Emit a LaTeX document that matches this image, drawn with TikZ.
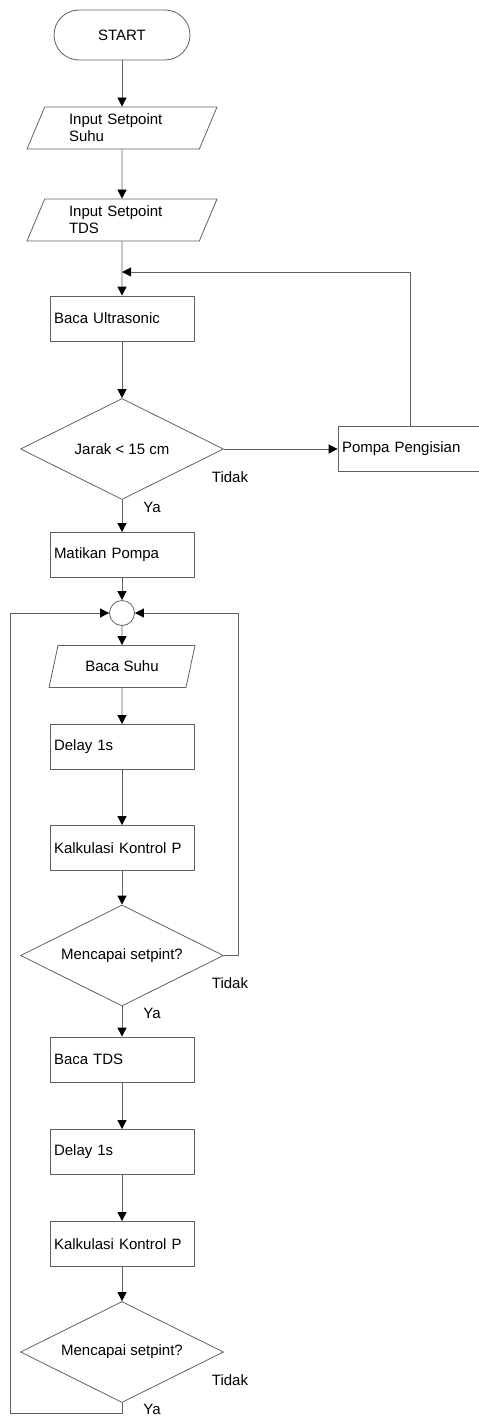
\documentclass[tikz,border=0pt]{standalone}
\usepackage{fontspec}
\setmainfont{Liberation Sans}
\usetikzlibrary{shapes.geometric,arrows.meta}
\tikzset{
  fcshape/.style={draw=black!62, line width=0.8pt, fill=white},
  fcterm/.style={fcshape, rectangle, rounded corners=25pt,
                 minimum width=136pt, minimum height=50pt},
  fcproc/.style={fcshape, rectangle, minimum width=144pt, minimum height=45pt,
                 text width=136pt, align=left, inner sep=4pt},
  fcio/.style={fcshape, trapezium, trapezium left angle=63,
               trapezium right angle=117, trapezium stretches body,
               minimum height=42pt},
  fcdecision/.style={fcshape, diamond, aspect=2, inner sep=1pt,
                     minimum width=203pt, minimum height=101pt},
  fcjoin/.style={fcshape, circle, minimum size=25pt, inner sep=0pt},
  fclink/.style={draw=black!62, line width=0.8pt},
  fcflow/.style={fclink, -{Triangle[width=9pt,length=9pt,color=black]}},
  fcnote/.style={inner sep=0pt}
}
\begin{document}
\begin{tikzpicture}[
    x=1pt, y=-1pt,
    every node/.style={font=\fontsize{15}{17}\selectfont}
]
  \useasboundingbox (0,0) rectangle (479,1416);

  \node[fcterm] (start) at (122,35) {START};
  \node[fcio, minimum width=190pt, text width=106pt, align=left] (insuhu) at (122,128)
    {Input Setpoint\\Suhu};
  \node[fcio, minimum width=190pt, text width=106pt, align=left] (intds) at (122,220)
    {Input Setpoint\\TDS};
  \node[fcproc] (ultra) at (122,318.5) {Baca Ultrasonic};
  \node[fcdecision] (jarak) at (122,449) {Jarak < 15 cm};
  \node[fcproc] (isi) at (410,449) {Pompa Pengisian};
  \node[fcproc] (matikan) at (122,555) {Matikan Pompa};
  \node[fcjoin] (join) at (122,613) {};
  \node[fcio, minimum width=146pt] (suhu) at (122,666.5) {Baca Suhu};
  \node[fcproc] (delaya) at (122,747) {Delay 1s};
  \node[fcproc] (kalka) at (122,848) {Kalkulasi Kontrol P};
  \node[fcdecision] (ceka) at (122,955.5) {Mencapai setpint?};
  \node[fcproc] (tds) at (122,1059.5) {Baca TDS};
  \node[fcproc] (delayb) at (122,1152) {Delay 1s};
  \node[fcproc] (kalkb) at (122,1244) {Kalkulasi Kontrol P};
  \node[fcdecision] (cekb) at (122,1352) {Mencapai setpint?};

  \foreach \a/\b in {start/insuhu, insuhu/intds, intds/ultra, ultra/jarak,
                     jarak/matikan, matikan/join, join/suhu, suhu/delaya,
                     delaya/kalka, kalka/ceka, ceka/tds, tds/delayb,
                     delayb/kalkb, kalkb/cekb}
    \draw[fcflow] (\a) -- (\b);

  \coordinate (back) at (122,272);
  \coordinate (righta) at (238,955.5);
  \coordinate (downb) at (122,1413);
  \coordinate (leftb) at (10,1413);
  \draw[fcflow] (jarak.east) -- (isi.west);
  \draw[fcflow] (isi.north) |- (back);
  \draw[fcflow] (ceka.east) -- (righta) |- (join.east);
  \draw[fcflow] (cekb.south) -- (downb) -- (leftb) |- (join.west);

  \node[fcnote] (tidak1) at (230,477) {Tidak};
  \node[fcnote] (ya1) at (152,507) {Ya};
  \node[fcnote] (tidak2) at (230,983) {Tidak};
  \node[fcnote] (ya2) at (152,1013) {Ya};
  \node[fcnote] (tidak3) at (230,1380) {Tidak};
  \node[fcnote] (ya3) at (152,1409) {Ya};
\end{tikzpicture}
\end{document}
